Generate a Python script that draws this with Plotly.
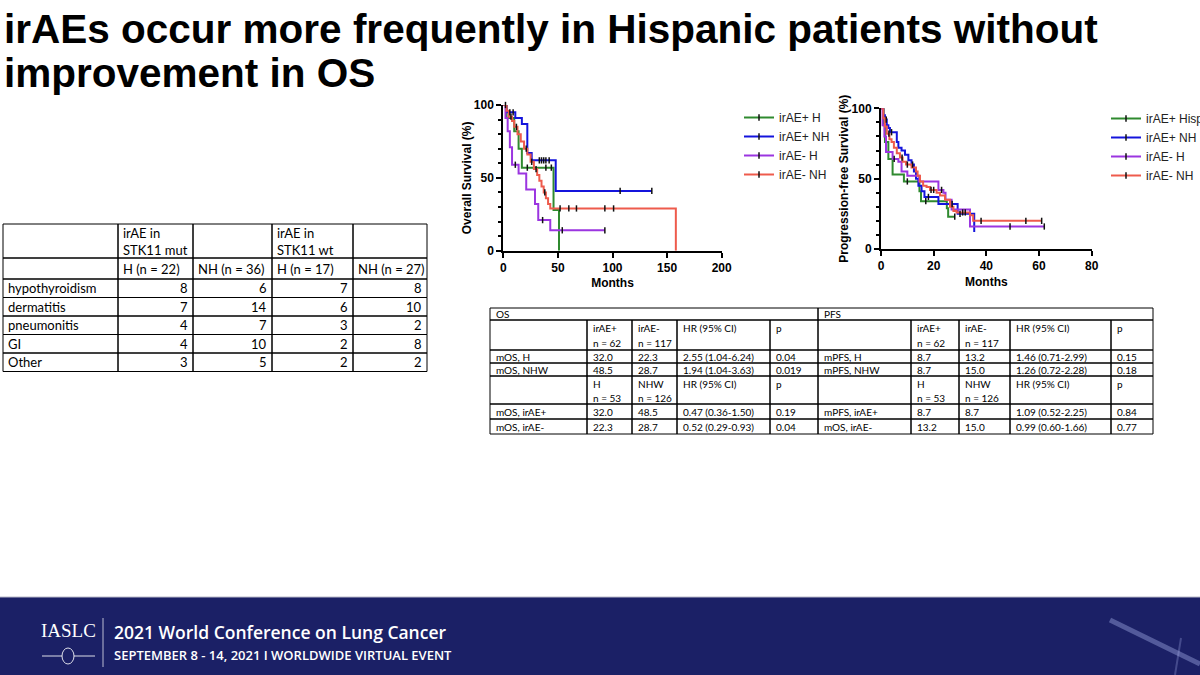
import plotly.graph_objects as go

W, H = 1200, 675

# ---------------- data ----------------
title_lines = ["irAEs occur more frequently in Hispanic patients without", "improvement in OS"]

os_names = ["irAE+ H", "irAE+ NH", "irAE- H", "irAE- NH"]
pfs_names = ["irAE+ Hispanic", "irAE+ NH", "irAE- H", "irAE- NH"]
curve_colors = ["#2f8a2f", "#1414dc", "#9b35e0", "#ee5b4c"]

os_xticks = [0, 50, 100, 150, 200]
pfs_xticks = [0, 20, 40, 60, 80]
surv_yticks = [0, 50, 100]

# Overall survival: event times (months) and survival (%) after each event; censor times
os_h_pos_t = [0, 3, 10, 14, 17, 46, 51]
os_h_pos_s = [100, 91, 82, 70, 57, 28, 0]
os_h_pos_c = [2, 22, 39, 44]

os_nh_pos_t = [0, 3, 11, 17, 22, 26, 48]
os_nh_pos_s = [100, 95, 91, 87, 67, 62, 41]
os_nh_pos_c = [6, 9, 33, 35, 37, 39, 42, 107, 136]

os_h_neg_t = [0, 2, 4, 6, 8, 14, 21, 29, 32, 43]
os_h_neg_s = [100, 91, 82, 71, 59, 53, 42, 32, 21, 14]
os_h_neg_c = [11, 36, 54, 93]

os_nh_neg_t = [0, 3, 5, 8, 10, 13, 16, 19, 22, 25, 28, 31, 33, 35, 37, 39, 41, 43, 158]
os_nh_neg_s = [100, 96, 92, 89, 85, 80, 75, 70, 66, 61, 56, 52, 48, 44, 40, 36, 32, 29, 0]
os_nh_neg_c = [7, 12, 21, 26, 30, 38, 52, 60, 67, 93, 101]

# Progression-free survival
pfs_h_pos_t = [0, 1, 1.5, 2.8, 4.4, 8.7, 14.6, 15.2, 25, 25.5]
pfs_h_pos_s = [100, 88, 76, 64, 53, 48, 41, 34, 29, 23]
pfs_h_pos_c = [10, 17, 28]

pfs_nh_pos_t = [0, 0.9, 1.5, 2.2, 2.8, 3.4, 6, 6.6, 7.8, 9.1, 10.4, 11.6, 12.5, 13.3, 14.2, 15.4, 16.5, 21.8, 29.1, 35.4]
pfs_nh_pos_s = [100, 95, 92, 88, 86, 83, 76, 72, 70, 67, 63, 60, 55, 50, 45, 41, 37, 32, 25, 12]
pfs_nh_pos_c = [2, 4, 12, 18, 27, 30]

pfs_h_neg_t = [0, 0.6, 1.3, 1.9, 4.4, 6.6, 7.8, 10, 14.5, 21.8, 23.7, 24.5, 26.8, 33.8]
pfs_h_neg_s = [100, 88, 80, 69, 64, 62, 55, 52, 48, 42, 40, 35, 28, 16]
pfs_h_neg_c = [5, 23, 49, 62]

pfs_nh_neg_t = [0, 0.9, 1.5, 2.2, 3.2, 4, 4.9, 6, 7.2, 8.2, 9.5, 11.6, 13.3, 13.9, 14.8, 16, 17.3, 18.6,
                21.1, 22.4, 24.3, 26.2, 27.5, 28.7, 33.8, 35]
pfs_nh_neg_s = [100, 93, 87, 82, 78, 76, 72, 68, 65, 62, 60, 58, 55, 52, 48, 45, 44, 42,
                40, 38, 35, 30, 27, 26, 24, 20]
pfs_nh_neg_c = [3, 8, 10, 19, 20, 31, 32, 38, 55, 61]

# Left table: irAE types by STK11 status and ethnicity
irae_header_top = ["", "irAE in\nSTK11 mut", "", "irAE in\nSTK11 wt", ""]
irae_subgroups = ["", "H (n = 22)", "NH (n = 36)", "H (n = 17)", "NH (n = 27)"]
irae_types = ["hypothyroidism", "dermatitis", "pneumonitis", "GI", "Other"]
h_mut = [8, 7, 4, 4, 3]
nh_mut = [6, 14, 7, 10, 5]
h_wt = [7, 6, 3, 2, 2]
nh_wt = [8, 10, 2, 8, 2]

# Right table: median survival and hazard ratios
os_pfs_sections = ["OS", "PFS"]
hr_header_a = ["", "irAE+\nn = 62", "irAE-\nn = 117", "HR (95% CI)", "p"]
hr_header_b = ["", "H\nn = 53", "NHW\nn = 126", "HR (95% CI)", "p"]
os_rows_a = [["mOS, H", "32.0", "22.3", "2.55 (1.04-6.24)", "0.04"],
             ["mOS, NHW", "48.5", "28.7", "1.94 (1.04-3.63)", "0.019"]]
pfs_rows_a = [["mPFS, H", "8.7", "13.2", "1.46 (0.71-2.99)", "0.15"],
              ["mPFS, NHW", "8.7", "15.0", "1.26 (0.72-2.28)", "0.18"]]
os_rows_b = [["mOS, irAE+", "32.0", "48.5", "0.47 (0.36-1.50)", "0.19"],
             ["mOS, irAE-", "22.3", "28.7", "0.52 (0.29-0.93)", "0.04"]]
pfs_rows_b = [["mPFS, irAE+", "8.7", "8.7", "1.09 (0.52-2.25)", "0.84"],
              ["mOS, irAE-", "13.2", "15.0", "0.99 (0.60-1.66)", "0.77"]]

footer_title = "2021 World Conference on Lung Cancer"
footer_sub = "SEPTEMBER 8 - 14, 2021 I WORLDWIDE VIRTUAL EVENT"

# ---------------- helpers ----------------
def px_x(x):
    return x / W


def px_y(y):
    return 1 - y / H


def surv_at(times, surv, t):
    val = surv[0]
    for ti, si in zip(times, surv):
        if ti <= t:
            val = si
    return val


fig = go.Figure()

BLACK = "#111111"


def add_km(times, surv, cens, color, name, xa, ya, legend):
    end = max([times[-1]] + cens)
    xs = list(times) + [end]
    ys = list(surv) + [surv[-1]]
    fig.add_trace(go.Scatter(x=xs, y=ys, mode="lines", xaxis=xa, yaxis=ya,
                             line=dict(color=color, width=2, shape="hv"),
                             showlegend=False, cliponaxis=False, hoverinfo="skip"))
    cx, cy = [], []
    for c in cens:
        cx += [c, None]
        cy += [surv_at(times, surv, c), None]
    return dict(x=cx, y=cy, color=color, name=name, xa=xa, ya=ya, legend=legend)


censor_specs = []
os_data = [(os_h_pos_t, os_h_pos_s, os_h_pos_c), (os_nh_pos_t, os_nh_pos_s, os_nh_pos_c),
           (os_h_neg_t, os_h_neg_s, os_h_neg_c), (os_nh_neg_t, os_nh_neg_s, os_nh_neg_c)]
pfs_data = [(pfs_h_pos_t, pfs_h_pos_s, pfs_h_pos_c), (pfs_nh_pos_t, pfs_nh_pos_s, pfs_nh_pos_c),
            (pfs_h_neg_t, pfs_h_neg_s, pfs_h_neg_c), (pfs_nh_neg_t, pfs_nh_neg_s, pfs_nh_neg_c)]

for (t, s, c), col, nm in zip(os_data, curve_colors, os_names):
    censor_specs.append(add_km(t, s, c, col, nm, "x", "y", "legend"))
for (t, s, c), col, nm in zip(pfs_data, curve_colors, pfs_names):
    censor_specs.append(add_km(t, s, c, col, nm, "x2", "y2", "legend2"))

for sp in censor_specs:
    fig.add_trace(go.Scatter(x=sp["x"], y=sp["y"], mode="lines+markers", name=sp["name"],
                             xaxis=sp["xa"], yaxis=sp["ya"], legend=sp["legend"],
                             line=dict(color=sp["color"], width=2),
                             marker=dict(symbol="line-ns", size=4.5, color=BLACK,
                                         line=dict(color=BLACK, width=1.5)),
                             cliponaxis=False, hoverinfo="skip", connectgaps=False))

# ---------------- axes ----------------
tick_font = dict(family="Liberation Sans, Arial", size=12, color="black", weight="bold")
title_font = dict(family="Liberation Sans, Arial", size=12, color="black", weight="bold")


def xaxis_cfg(domain, rng, ticks, anchor):
    return dict(domain=domain, range=rng, tickvals=ticks, anchor=anchor,
                showline=True, linewidth=2, linecolor="black", ticks="outside",
                ticklen=5, tickwidth=2, tickcolor="black", tickfont=tick_font,
                showgrid=False, zeroline=False, automargin=False,
                title=dict(text="Months", font=title_font, standoff=5))


def yaxis_cfg(domain, title, anchor):
    return dict(domain=domain, range=[0, 100], tickvals=surv_yticks, anchor=anchor,
                showline=True, linewidth=2, linecolor="black", ticks="outside",
                ticklen=5, tickwidth=2, tickcolor="black", tickfont=tick_font,
                showgrid=False, zeroline=False, automargin=False,
                minor=dict(dtick=10, ticks="outside", ticklen=3, tickwidth=1.5,
                           tickcolor="black", showgrid=False),
                title=dict(text=title, font=title_font, standoff=0))


fig.update_layout(
    xaxis=xaxis_cfg([px_x(503.3), px_x(721.7)], [0, 200], os_xticks, "y"),
    yaxis=yaxis_cfg([px_y(250.7), px_y(105)], "Overall Survival (%)", "x"),
    xaxis2=xaxis_cfg([px_x(881), px_x(1091.7)], [0, 80], pfs_xticks, "y2"),
    yaxis2=yaxis_cfg([px_y(249), px_y(108.3)], "Progression-free Survival (%)", "x2"),
)

legend_font = dict(family="Liberation Sans, Arial", size=12, color="#222222")
fig.update_layout(
    legend=dict(x=px_x(739), y=px_y(103), xref="container", yref="container",
                xanchor="left", yanchor="top", font=legend_font,
                bgcolor="rgba(0,0,0,0)", tracegroupgap=0, itemwidth=30),
    legend2=dict(x=px_x(1106), y=px_y(104), xref="container", yref="container",
                 xanchor="left", yanchor="top", font=legend_font,
                 bgcolor="rgba(0,0,0,0)", tracegroupgap=0, itemwidth=30),
)

shapes = []
annotations = []

# ---------------- tables ----------------
def build_table(x_edges, y_edges, cells, font, line_h, first_off, pad):
    multi_rows = set()
    for (r, c0, c1, text, align) in cells:
        if "\n" in text:
            multi_rows.add(r)
    for (r, c0, c1, text, align) in cells:
        x0, x1 = x_edges[c0], x_edges[c1 + 1]
        y0, y1 = y_edges[r], y_edges[r + 1]
        shapes.append(dict(type="rect", xref="paper", yref="paper",
                           x0=px_x(x0), x1=px_x(x1), y0=px_y(y1), y1=px_y(y0),
                           line=dict(color="black", width=1), fillcolor="rgba(0,0,0,0)"))
        if not text:
            continue
        for k, ln in enumerate(text.split("\n")):
            if r in multi_rows:
                yc = y0 + first_off + k * line_h
            else:
                yc = (y0 + y1) / 2
            if align == "left":
                xx, xa = x0 + pad, "left"
            else:
                xx, xa = x1 - pad, "right"
            annotations.append(dict(text=ln, xref="paper", yref="paper",
                                    x=px_x(xx), y=px_y(yc), xanchor=xa, yanchor="middle",
                                    showarrow=False, font=font))


# left table
lt_x = [3, 118, 193, 272, 353, 427]
lt_y = [224, 258, 279, 297.5, 316, 334.5, 353, 371.5]
lt_cells = []
for j, txt in enumerate(irae_header_top):
    lt_cells.append((0, j, j, txt, "left"))
for j, txt in enumerate(irae_subgroups):
    lt_cells.append((1, j, j, txt, "left"))
for i, name in enumerate(irae_types):
    lt_cells.append((2 + i, 0, 0, name, "left"))
    for j, col in enumerate([h_mut, nh_mut, h_wt, nh_wt]):
        lt_cells.append((2 + i, j + 1, j + 1, str(col[i]), "right"))
build_table(lt_x, lt_y, lt_cells, dict(family="Lato", size=13, color="black"), 17, 8.5, 3)

# right table
rt_x = [490, 587, 632, 677, 770, 818, 911, 959, 1010, 1111, 1153]
rt_y = [308, 320, 350, 363, 376, 404, 419, 434]
rt_cells = [(0, 0, 4, os_pfs_sections[0], "left"), (0, 5, 9, os_pfs_sections[1], "left")]
row_groups = [(1, hr_header_a, hr_header_a), (2, os_rows_a[0], pfs_rows_a[0]), (3, os_rows_a[1], pfs_rows_a[1]),
              (4, hr_header_b, hr_header_b), (5, os_rows_b[0], pfs_rows_b[0]), (6, os_rows_b[1], pfs_rows_b[1])]
for r, left_vals, right_vals in row_groups:
    for j, txt in enumerate(left_vals + right_vals):
        rt_cells.append((r, j, j, txt, "left"))
build_table(rt_x, rt_y, rt_cells, dict(family="Lato", size=10, color="black"), 15, 7.5, 3.5)

# ---------------- title ----------------
title_font_big = dict(family="Liberation Sans, Arial", size=40.5, color="black", weight="bold")
for k, line in enumerate(title_lines):
    annotations.append(dict(text=line, xref="paper", yref="paper", x=px_x(2), y=px_y(29 + 44 * k),
                            xanchor="left", yanchor="middle", align="left", showarrow=False,
                            font=title_font_big))

# ---------------- footer ----------------
NAVY = "#1b2066"
shapes.append(dict(type="rect", xref="paper", yref="paper", x0=0, x1=1, y0=0, y1=px_y(597),
                   fillcolor=NAVY, line=dict(width=0), layer="below"))
shapes.append(dict(type="line", xref="paper", yref="paper", x0=0, x1=1, y0=px_y(597), y1=px_y(597),
                   line=dict(color="#b8b8c8", width=1)))
shapes.append(dict(type="line", xref="paper", yref="paper", x0=px_x(1110), x1=1, y0=px_y(620), y1=px_y(664),
                   line=dict(color="rgba(190,200,255,0.35)", width=5)))
shapes.append(dict(type="line", xref="paper", yref="paper", x0=px_x(1181), x1=px_x(1175), y0=px_y(638), y1=0,
                   line=dict(color="rgba(190,200,255,0.25)", width=2)))
shapes.append(dict(type="line", xref="paper", yref="paper", x0=px_x(103), x1=px_x(103), y0=px_y(618), y1=px_y(667),
                   line=dict(color="rgba(255,255,255,0.7)", width=1)))
shapes.append(dict(type="line", xref="paper", yref="paper", x0=px_x(42), x1=px_x(95), y0=px_y(656), y1=px_y(656),
                   line=dict(color="rgba(255,255,255,0.85)", width=1)))
shapes.append(dict(type="circle", xref="paper", yref="paper", x0=px_x(62), x1=px_x(74), y0=px_y(664), y1=px_y(648),
                   line=dict(color="rgba(255,255,255,0.85)", width=1), fillcolor=NAVY))

annotations.append(dict(text="IASLC", xref="paper", yref="paper", x=px_x(68), y=px_y(630),
                        xanchor="center", yanchor="middle", showarrow=False,
                        font=dict(family="Liberation Serif", size=19, color="white")))
annotations.append(dict(text=footer_title, xref="paper", yref="paper", x=px_x(112), y=px_y(632),
                        xanchor="left", yanchor="middle", showarrow=False,
                        font=dict(family="Open Sans", size=17.5, color="white", weight=600)))
annotations.append(dict(text=footer_sub, xref="paper", yref="paper", x=px_x(112), y=px_y(655),
                        xanchor="left", yanchor="middle", showarrow=False,
                        font=dict(family="Open Sans", size=13, color="white", weight=600)))

fig.update_layout(
    width=W, height=H, margin=dict(l=0, r=0, t=0, b=0, autoexpand=False), autosize=False,
    paper_bgcolor="white", plot_bgcolor="rgba(0,0,0,0)",
    shapes=shapes, annotations=annotations,
    font=dict(family="Liberation Sans, Arial", color="black"),
)

fig.write_html("out.html", config={"responsive": False, "displayModeBar": False},
               post_script="document.body.style.margin='0px';document.body.style.overflow='hidden';")
